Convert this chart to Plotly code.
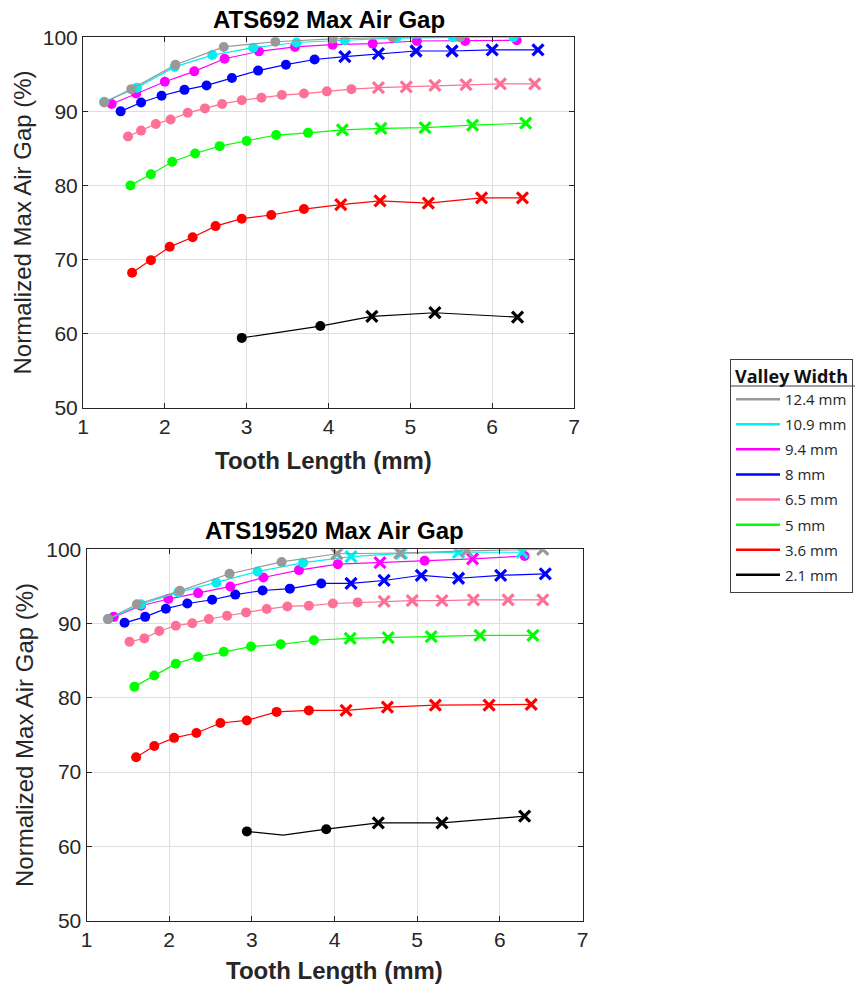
import plotly.graph_objects as go

W, H = 857, 988

# ---------------- data: legend ----------------
series_names = ["12.4 mm", "10.9 mm", "9.4 mm", "8 mm", "6.5 mm", "5 mm", "3.6 mm", "2.1 mm"]
series_colors = ["#999999", "#00F0F0", "#FF00FF", "#0000FF", "#FF7096", "#00FF00", "#FF0000", "#000000"]

# ---------------- data: ATS692 (top) ----------------
a_gray_x = [1.26, 1.59, 2.13, 2.72, 3.35, 4.05, 4.78, 5.61]
a_gray_y = [91.2, 93.0, 96.3, 98.7, 99.4, 99.8, 100.0, 100.0]
a_gray_k = ["o", "o", "o", "o", "o", "o", "o", "o"]

a_cyan_x = [1.26, 1.66, 2.12, 2.58, 3.08, 3.61, 4.20, 4.83, 5.52, 6.26]
a_cyan_y = [91.3, 93.2, 96.0, 97.6, 98.6, 99.3, 99.6, 99.9, 100.0, 100.0]
a_cyan_k = ["o"] * 10

a_mag_x = [1.35, 1.65, 2.00, 2.36, 2.73, 3.15, 3.59, 4.05, 4.54, 5.08, 5.67, 6.30]
a_mag_y = [91.0, 92.4, 94.0, 95.4, 97.1, 98.1, 98.7, 99.0, 99.15, 99.5, 99.5, 99.6]
a_mag_k = ["o"] * 12

a_blue_x = [1.46, 1.71, 1.96, 2.24, 2.51, 2.82, 3.14, 3.48, 3.83, 4.20, 4.61, 5.07, 5.51, 6.00, 6.56]
a_blue_y = [90.0, 91.2, 92.1, 92.9, 93.5, 94.5, 95.5, 96.3, 97.0, 97.4, 97.8, 98.15, 98.15, 98.3, 98.3]
a_blue_k = ["o"] * 9 + ["x"] * 6

a_pink_x = [1.55, 1.71, 1.89, 2.07, 2.28, 2.49, 2.70, 2.94, 3.18, 3.43, 3.70, 3.98, 4.28,
            4.61, 4.95, 5.30, 5.68, 6.10, 6.52]
a_pink_y = [86.6, 87.4, 88.3, 88.9, 89.8, 90.4, 91.0, 91.5, 91.85, 92.2, 92.4, 92.7, 93.0,
            93.2, 93.3, 93.5, 93.6, 93.7, 93.7]
a_pink_k = ["o"] * 13 + ["x"] * 6

a_green_x = [1.58, 1.83, 2.09, 2.37, 2.67, 3.00, 3.36, 3.75, 4.17, 4.64, 5.18, 5.76, 6.41]
a_green_y = [80.0, 81.5, 83.2, 84.3, 85.3, 86.0, 86.8, 87.1, 87.5, 87.7, 87.8, 88.15, 88.4]
a_green_k = ["o"] * 8 + ["x"] * 5

a_red_x = [1.60, 1.83, 2.06, 2.34, 2.62, 2.94, 3.30, 3.70, 4.15, 4.63, 5.22, 5.87, 6.37]
a_red_y = [68.2, 69.9, 71.7, 73.0, 74.5, 75.5, 76.0, 76.8, 77.4, 77.9, 77.6, 78.3, 78.3]
a_red_k = ["o"] * 8 + ["x"] * 5

a_black_x = [2.94, 3.90, 4.53, 5.30, 6.31]
a_black_y = [59.4, 61.0, 62.3, 62.8, 62.2]
a_black_k = ["o", "o", "x", "x", "x"]

# ---------------- data: ATS19520 (bottom) ----------------
b_gray_x = [1.26, 1.61, 2.13, 2.73, 3.36, 4.03, 4.79, 5.60, 6.52]
b_gray_y = [90.6, 92.6, 94.4, 96.7, 98.3, 99.4, 99.5, 99.8, 100.0]
b_gray_k = ["o"] * 5 + ["x"] * 4

b_cyan_x = [1.26, 1.66, 2.11, 2.57, 3.07, 3.62, 4.20, 4.81, 5.50, 6.27]
b_cyan_y = [90.6, 92.6, 94.2, 95.5, 97.0, 98.2, 99.0, 99.45, 99.6, 99.6]
b_cyan_k = ["o"] * 6 + ["x"] * 4

b_mag_x = [1.33, 1.66, 1.99, 2.35, 2.74, 3.14, 3.57, 4.04, 4.55, 5.09, 5.67, 6.30]
b_mag_y = [90.9, 92.4, 93.3, 94.1, 95.0, 96.2, 97.2, 98.0, 98.2, 98.45, 98.7, 99.1]
b_mag_k = ["o"] * 8 + ["x", "o", "x", "o"]

b_blue_x = [1.46, 1.71, 1.96, 2.22, 2.52, 2.80, 3.13, 3.46, 3.84, 4.20, 4.60, 5.05, 5.50, 6.01, 6.55]
b_blue_y = [90.1, 90.9, 92.0, 92.7, 93.2, 93.9, 94.45, 94.7, 95.4, 95.4, 95.8, 96.5, 96.1, 96.5, 96.7]
b_blue_k = ["o"] * 9 + ["x"] * 6

b_pink_x = [1.52, 1.70, 1.88, 2.08, 2.28, 2.48, 2.70, 2.93, 3.18, 3.43, 3.69, 3.98, 4.28,
            4.60, 4.94, 5.30, 5.68, 6.10, 6.52]
b_pink_y = [87.55, 88.0, 89.0, 89.7, 90.05, 90.6, 91.05, 91.5, 91.95, 92.3, 92.4, 92.7, 92.85,
            93.0, 93.1, 93.1, 93.2, 93.2, 93.2]
b_pink_k = ["o"] * 13 + ["x"] * 6

b_green_x = [1.58, 1.82, 2.08, 2.35, 2.66, 2.99, 3.35, 3.75, 4.19, 4.65, 5.17, 5.76, 6.40]
b_green_y = [81.5, 83.0, 84.6, 85.5, 86.2, 86.9, 87.2, 87.75, 88.0, 88.1, 88.25, 88.4, 88.4]
b_green_k = ["o"] * 8 + ["x"] * 5

b_red_x = [1.60, 1.82, 2.06, 2.33, 2.62, 2.94, 3.30, 3.69, 4.14, 4.64, 5.22, 5.87, 6.38]
b_red_y = [72.0, 73.5, 74.6, 75.25, 76.6, 76.95, 78.1, 78.3, 78.3, 78.75, 79.0, 79.0, 79.1]
b_red_k = ["o"] * 8 + ["x"] * 5

b_black_x = [2.94, 3.38, 3.90, 4.53, 5.30, 6.30]
b_black_y = [62.0, 61.5, 62.3, 63.15, 63.15, 64.05]
b_black_k = ["o", "-", "o", "x", "x", "x"]

x_ticks = [1, 2, 3, 4, 5, 6, 7]
y_ticks = [50, 60, 70, 80, 90, 100]

top_title = "ATS692 Max Air Gap"
bottom_title = "ATS19520 Max Air Gap"
x_title = "Tooth Length (mm)"
y_title = "Normalized Max Air Gap (%)"
legend_title = "Valley Width"

top_series = [
    (a_gray_x, a_gray_y, a_gray_k), (a_cyan_x, a_cyan_y, a_cyan_k), (a_mag_x, a_mag_y, a_mag_k),
    (a_blue_x, a_blue_y, a_blue_k), (a_pink_x, a_pink_y, a_pink_k), (a_green_x, a_green_y, a_green_k),
    (a_red_x, a_red_y, a_red_k), (a_black_x, a_black_y, a_black_k),
]
bottom_series = [
    (b_gray_x, b_gray_y, b_gray_k), (b_cyan_x, b_cyan_y, b_cyan_k), (b_mag_x, b_mag_y, b_mag_k),
    (b_blue_x, b_blue_y, b_blue_k), (b_pink_x, b_pink_y, b_pink_k), (b_green_x, b_green_y, b_green_k),
    (b_red_x, b_red_y, b_red_k), (b_black_x, b_black_y, b_black_k),
]

# ---------------- figure ----------------
fig = go.Figure()

SYM = {"o": "circle", "x": "x-thin", "-": "circle"}
SIZE = {"o": 10, "x": 11, "-": 0}
LW = {"o": 0, "x": 3.2, "-": 0}


def add_series(series, xa, ya):
    # draw from 2.1 mm up to 12.4 mm so the larger widths sit on top
    for i in reversed(range(len(series))):
        xs, ys, ks = series[i]
        c = series_colors[i]
        fig.add_trace(go.Scatter(
            x=xs, y=ys, mode="lines+markers", xaxis=xa, yaxis=ya, showlegend=False,
            line=dict(color=c, width=1.2),
            marker=dict(symbol=[SYM[k] for k in ks], size=[SIZE[k] for k in ks], color=c,
                        opacity=1,
                        line=dict(color=c, width=[LW[k] for k in ks])),
            hoverinfo="x+y", name=series_names[i],
        ))


add_series(top_series, "x", "y")
add_series(bottom_series, "x2", "y2")

# legend entries (lines only)
for i, nm in enumerate(series_names):
    fig.add_trace(go.Scatter(
        x=[None], y=[None], mode="lines", name=nm, legendgroup=nm,
        line=dict(color=series_colors[i], width=2.5), xaxis="x", yaxis="y", showlegend=True,
    ))


def px_x(p):
    return p / W


def px_y(p):
    return 1 - p / H


FONT = "Liberation Sans"
axis_common = dict(
    showgrid=True, gridcolor="#DEDEDE", gridwidth=1, zeroline=False, automargin=False,
    showline=True, linecolor="#262626", linewidth=1, mirror="ticks",
    ticks="inside", ticklen=5, tickcolor="#262626",
    tickfont=dict(family=FONT, size=21, color="#262626"),
)

fig.update_layout(
    width=W, height=H, margin=dict(l=0, r=0, t=0, b=0, autoexpand=False),
    paper_bgcolor="white", plot_bgcolor="white",
    xaxis=dict(domain=[px_x(83), px_x(574)], range=[1, 7], tickvals=x_ticks, anchor="y", **axis_common),
    yaxis=dict(domain=[px_y(407.5), px_y(37.3)], range=[50, 100], tickvals=y_ticks, anchor="x", **axis_common),
    xaxis2=dict(domain=[px_x(86.5), px_x(582.5)], range=[1, 7], tickvals=x_ticks, anchor="y2", **axis_common),
    yaxis2=dict(domain=[px_y(920.5), px_y(549.3)], range=[50, 100], tickvals=y_ticks, anchor="x2", **axis_common),
    legend=dict(
        x=px_x(730), y=px_y(358.5), xanchor="left", yanchor="top",
        bordercolor="#404040", borderwidth=1, bgcolor="rgba(0,0,0,0)",
        font=dict(family="Open Sans", size=15, color="#262626"),
        title=dict(text="<b>%s</b>" % legend_title, side="top center",
                   font=dict(family="Open Sans", size=18, color="#111111")),
        traceorder="grouped", tracegroupgap=2.6, itemwidth=44,
    ),
    showlegend=True,
    shapes=[dict(type="line", xref="paper", yref="paper",
                 x0=px_x(730), x1=px_x(855), y0=px_y(386), y1=px_y(386),
                 line=dict(color="#404040", width=1))],
)

ann_font_b = dict(family=FONT, size=24, color="#000000")
ann_font_x = dict(family=FONT, size=24, color="#262626")
ann_font_y = dict(family=FONT, size=24, color="#262626")
annotations = [
    dict(text="<b>%s</b>" % top_title, x=px_x(329), y=px_y(19), font=ann_font_b),
    dict(text="<b>%s</b>" % bottom_title, x=px_x(334.5), y=px_y(530), font=ann_font_b),
    dict(text="<b>%s</b>" % x_title, x=px_x(323.5), y=px_y(460), font=ann_font_x),
    dict(text="<b>%s</b>" % x_title, x=px_x(334.5), y=px_y(970), font=ann_font_x),
    dict(text=y_title, x=px_x(22), y=px_y(222.5), font=ann_font_y, textangle=-90),
    dict(text=y_title, x=px_x(24), y=px_y(735), font=ann_font_y, textangle=-90),
]
for a in annotations:
    a.update(xref="paper", yref="paper", xanchor="center", yanchor="middle", showarrow=False)
fig.update_layout(annotations=annotations)

fig.write_html("out.html")
